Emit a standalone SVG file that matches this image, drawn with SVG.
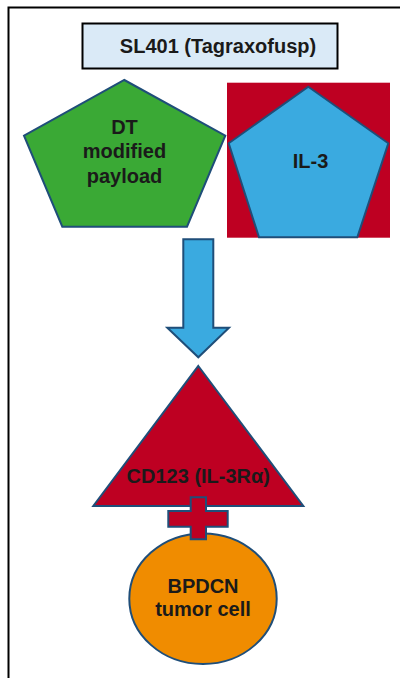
<svg xmlns="http://www.w3.org/2000/svg" width="400" height="678" viewBox="0 0 400 678">
<style>
.t{font-family:"Liberation Sans",Arial,sans-serif;font-weight:bold;fill:#1a1a1a;text-anchor:middle;font-size:20px}
.s{stroke:#1F4E79;stroke-width:2;stroke-linejoin:miter}
</style>
<rect width="400" height="678" fill="#fff"/>
<rect x="8.5" y="7.5" width="400" height="700" fill="none" stroke="#000" stroke-width="2"/>
<g id="title">
<rect x="82.5" y="23.5" width="255" height="45" fill="#DAEAF7" stroke="#000" stroke-width="2"/>
<text class="t" x="218" y="52.5">SL401 (Tagraxofusp)</text>
</g>
<g id="dt">
<polygon class="s" points="124.3,80 225.3,135.7 187,226.7 62.3,226.7 24,135.7" fill="#3AA935"/>
<text class="t" x="124.5" y="134.3">DT</text>
<text class="t" x="124.5" y="158.3">modified</text>
<text class="t" x="124.5" y="182.5">payload</text>
</g>
<g id="il3">
<rect x="227" y="82.7" width="163" height="155" fill="#BE0022"/>
<polygon class="s" points="308.3,86.7 388.3,143.3 357.3,237.3 259,237.3 228.7,143.3" fill="#3AAAE0"/>
<text class="t" x="310.5" y="167.7">IL-3</text>
</g>
<g id="connectors">
<polygon class="s" points="183.3,239.3 213.3,239.3 213.3,327.7 229,327.7 198.3,357.3 167.3,327.7 183.3,327.7" fill="#3AAAE0"/>
</g>
<g id="cd123">
<polygon class="s" points="198.3,366 303.3,506 93.3,506" fill="#BE0022"/>
<text class="t" x="198.3" y="482.7">CD123 (IL-3Rα)</text>
</g>
<g id="bpdcn">
<ellipse class="s" cx="203" cy="598.7" rx="73.7" ry="65.3" fill="#F08C00"/>
<text class="t" x="203" y="592.7">BPDCN</text>
<text class="t" x="203" y="616">tumor cell</text>
</g>
<g id="binding">
<polygon class="s" points="190.7,497.3 206,497.3 206,511 227.7,511 227.7,526.7 206,526.7 206,539.3 190.7,539.3 190.7,526.7 168.3,526.7 168.3,511 190.7,511" fill="#BE0022"/>
</g>
</svg>
